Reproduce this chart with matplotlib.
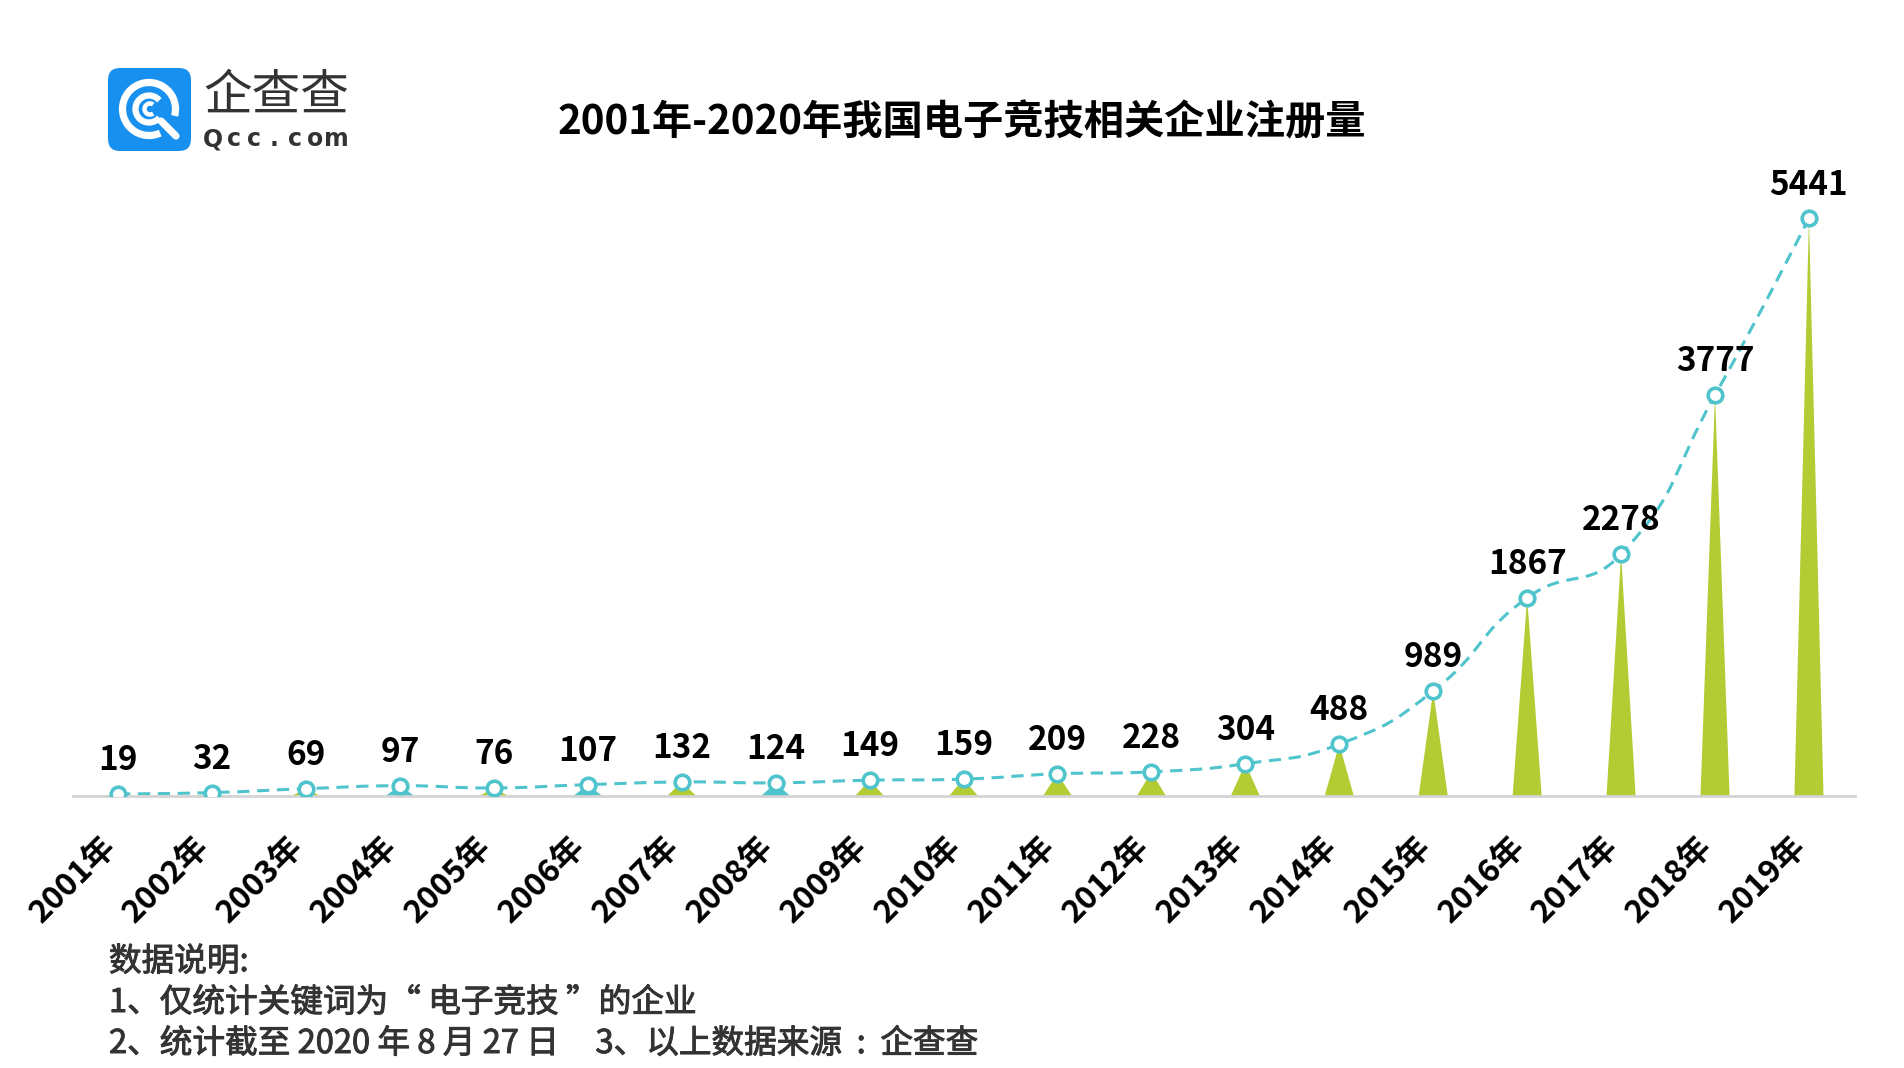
import numpy as np
import matplotlib
matplotlib.use("Agg")
import matplotlib.pyplot as plt
import matplotlib.transforms as mtransforms
import matplotlib.patheffects as pe
from matplotlib.path import Path
from matplotlib.patches import PathPatch, FancyBboxPatch, Arc

plt.rcParams['font.family'] = ['Noto Sans CJK SC', 'DejaVu Sans']

# --- data ---
years = [f"{y}年" for y in range(2001, 2020)]
counts = [19, 32, 69, 97, 76, 107, 132, 124, 149, 159, 209, 228, 304, 488, 989,
          1867, 2278, 3777, 5441]
GREEN = '#b3cc33'
TEAL = '#4fc4cc'
bar_colors = [TEAL, TEAL, GREEN, TEAL, GREEN, TEAL, GREEN, TEAL] + [GREEN] * 11

title = "2001年-2020年我国电子竞技相关企业注册量"
notes = ["数据说明:",
         "1、仅统计关键词为“ 电子竞技 ”的企业",
         "2、统计截至 2020 年 8 月 27 日     3、以上数据来源  :  企查查"]

W, H = 1904, 1068
fig = plt.figure(figsize=(W / 100, H / 100), dpi=100)

# --- main axes ---
ax = fig.add_axes([73 / W, (H - 796) / H, 1782 / W, 637 / H])
ax.set_xlim(-0.48, 18.49)
ax.set_ylim(0, 6000)
x = np.arange(len(counts))

# triangle "bars"
bw = 0.31
for xi, v, c in zip(x, counts, bar_colors):
    ax.fill([xi - bw / 2, xi, xi + bw / 2], [0, v, 0], color=c, lw=0, zorder=1)

# smooth dashed line (bezier through points, computed in pixel space)
pts = ax.transData.transform(np.column_stack([x, counts]))
smooth = 0.5
cin, cout = pts.copy(), pts.copy()
for i in range(1, len(pts) - 1):
    v = pts[i + 1] - pts[i - 1]
    d0 = np.hypot(*(pts[i] - pts[i - 1]))
    d1 = np.hypot(*(pts[i + 1] - pts[i]))
    s = d0 + d1
    cin[i] = pts[i] - v * smooth * d0 / s
    cout[i] = pts[i] + v * smooth * d1 / s
verts = [pts[0]]
codes = [Path.MOVETO]
for i in range(len(pts) - 1):
    verts += [cout[i], cin[i + 1], pts[i + 1]]
    codes += [Path.CURVE4] * 3
inv = ax.transData.inverted()
path = Path(inv.transform(np.array(verts)), codes)
ax.add_patch(PathPatch(path, fill=False, edgecolor=TEAL, lw=2.2,
                       linestyle=(0, (4, 2.5)), zorder=2))
ax.plot(x, counts, 'o', ms=10.5, mfc='white', mec=TEAL, mew=2.6, zorder=3)

for xi, v in zip(x, counts):
    ax.annotate(str(v), (xi, v), xytext=(0, 24), textcoords='offset points',
                ha='center', va='center', fontsize=24, fontweight='bold',
                color='black', zorder=4)

for s in ['top', 'right', 'left']:
    ax.spines[s].set_visible(False)
ax.spines['bottom'].set_color('#d4d4d4')
ax.spines['bottom'].set_linewidth(2)
ax.set_yticks([])
ax.set_xticks(x)
ax.set_xticklabels(years, rotation=45, ha='right', va='top', fontsize=23,
                   fontweight='bold', color='black')
ax.tick_params(axis='x', length=0, pad=25)
shift = mtransforms.ScaledTranslation(4 / 100, 0, fig.dpi_scale_trans)
for lbl in ax.get_xticklabels():
    lbl.set_transform(lbl.get_transform() + shift)

# --- title ---
fig.text(962 / W, 1 - 123 / H, title, ha='center', va='center',
         fontsize=29, fontweight='bold', color='black')

# --- notes ---
for i, line in enumerate(notes):
    fig.text(109 / W, 1 - (962 + 41 * i) / H, line, ha='left', va='center',
             fontsize=23.5, color='#333333',
             path_effects=[pe.withStroke(linewidth=0.7, foreground='#333333')])

# --- logo ---
lax = fig.add_axes([108 / W, (H - 151) / H, 83 / W, 83 / H])
lax.set_xlim(0, 83)
lax.set_ylim(0, 83)
lax.axis('off')
lax.add_patch(FancyBboxPatch((0, 0), 83, 83, boxstyle='round,pad=0,rounding_size=12',
                             fc='#1890ef', ec='none'))
cx, cy = 41, 42
lax.add_patch(Arc((cx, cy), 53, 53, theta1=-15, theta2=295, lw=5.2, color='white'))
lax.plot([cx + 12, cx + 27], [cy - 12, cy - 27], color='white', lw=5.2,
         solid_capstyle='round')
lax.add_patch(Arc((cx, cy), 27, 27, theta1=40, theta2=320, lw=4.5, color='white'))
lax.add_patch(Arc((cx + 1, cy), 11, 11, theta1=55, theta2=305, lw=3.2, color='white'))

fig.text(203 / W, 1 - 96 / H, "企查查", ha='left', va='center', fontsize=35,
         color='#333333')
for i, ch in enumerate("Qcc.com"):
    fig.text((213 + i * 20.5) / W, 1 - 139 / H, ch, ha='center', va='center',
             fontsize=17, fontweight='bold', color='#333333', family='DejaVu Sans')

fig.savefig("out.png", dpi=100, facecolor='white')
